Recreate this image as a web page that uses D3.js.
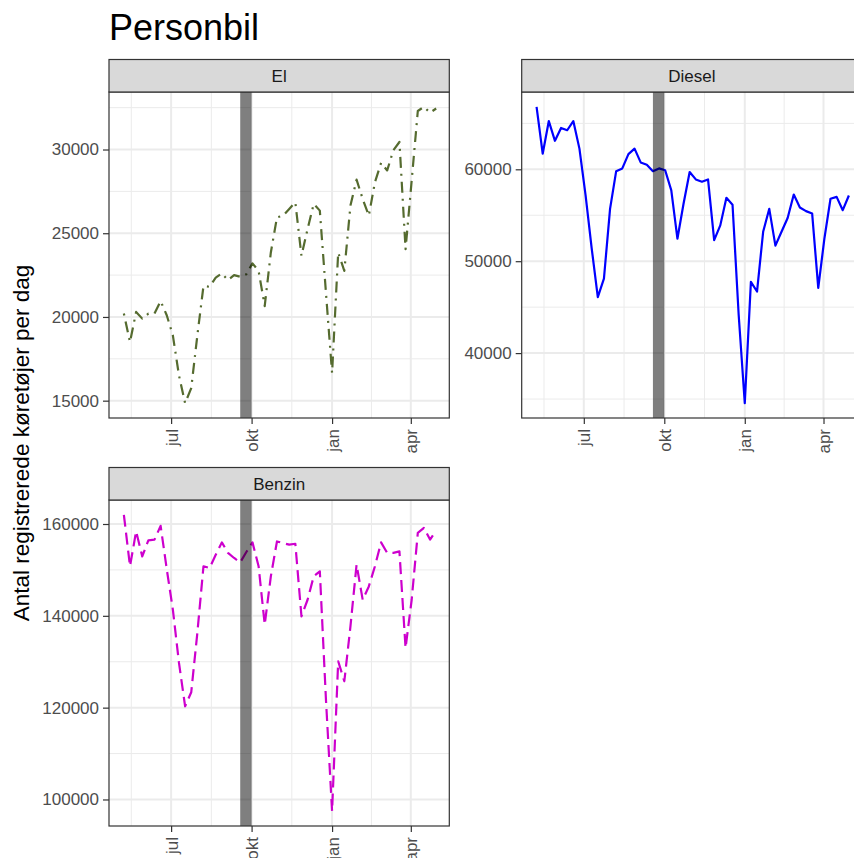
<!DOCTYPE html>
<html>
<head>
<meta charset="utf-8">
<script src="https://cdn.jsdelivr.net/npm/d3@7"></script>
<style>
  body { margin: 0; background: #fff; }
  svg { display: block; }
  text { font-family: "Liberation Sans", Arial, sans-serif; }
</style>
</head>
<body>
<svg id="chart" width="854" height="858"></svg>
<script>
// Weekly registrations, one value per week from 8 May 2022 to 30 April 2023
const weeks = d3.timeDay.range(new Date(2022, 4, 8), new Date(2023, 4, 1), 7);

const elValues = [
  20200, 18500, 20300, 19900, 20200, 20200, 20950, 20100, 18900, 16500,
  14850, 15750, 18900, 21850, 21800, 22350, 22600, 22200, 22500, 22400,
  22550, 23200, 22750, 20650, 23850, 25950, 26050, 26450, 26850, 23650,
  25250, 26750, 26350, 21450, 16650, 23850, 22750, 26650, 28200, 27050,
  26050, 28050, 29200, 28750, 29950, 30450, 24050, 28150, 32300, 32550,
  32200, 32450
];

const dieselValues = [
  66800, 61700, 65250, 63100, 64500, 64250, 65250, 62250, 57200, 51400,
  46100, 48100, 55700, 59800, 60100, 61650, 62250, 60750, 60500, 59800,
  60100, 59900, 57700, 52450, 56250, 59700, 58900, 58650, 58900, 52300,
  53900, 56900, 56150, 44200, 34550, 47750, 46700, 53200, 55700, 51700,
  53200, 54700, 57250, 55850, 55450, 55200, 47100, 52450, 56800, 57000,
  55550, 57150
];

const benzinValues = [
  162000, 150800, 158400, 152950, 156450, 156600, 159600, 150200, 141350, 129750,
  120300, 123350, 136300, 150800, 150400, 153300, 156000, 153700, 152600, 151650,
  153900, 156000, 150800, 138100, 148600, 156200, 155850, 155500, 155700, 139900,
  143500, 148600, 149700, 121750, 97450, 130100, 125750, 137700, 151150, 143500,
  146400, 150800, 156000, 153700, 153700, 154050, 133000, 143500, 158050, 159150,
  156600, 158600
];

const facetNames = ["El", "Diesel", "Benzin"];
const facetValues = [elValues, dieselValues, benzinValues];
const lineColors = ["#556B2F", "#0000FF", "#CD00CD"];
const lineDashes = ["2,6,11,6", null, "12,6"];
const yTickValues = [
  [15000, 20000, 25000, 30000],
  [40000, 50000, 60000],
  [100000, 120000, 140000, 160000]
];

const monthTicks = [new Date(2022, 6, 1), new Date(2022, 9, 1), new Date(2023, 0, 1), new Date(2023, 3, 1)];
const monthLabels = ["jul", "okt", "jan", "apr"];
const markedPeriod = [new Date(2022, 8, 18), new Date(2022, 9, 1)];

const chartTitle = "Personbil";
const yTitle = "Antal registrerede køretøjer per dag";

// ---- layout ----
const svg = d3.select("#chart");
const PW = 340.3, PH = 326, STRIP = 32.5;
const panelPos = [
  { x: 109, y: 92 },
  { x: 521.7, y: 92 },
  { x: 109, y: 500 }
];
const xDomain = [new Date(2022, 3, 21), new Date(2023, 4, 15)];

svg.append("rect").attr("width", 854).attr("height", 858).attr("fill", "#fff");

svg.append("text")
  .attr("x", 109).attr("y", 39.5)
  .attr("font-size", 36).attr("fill", "#000")
  .text(chartTitle);

svg.append("text")
  .attr("transform", "translate(29,443) rotate(-90)")
  .attr("text-anchor", "middle")
  .attr("font-size", 22.5).attr("fill", "#000")
  .text(yTitle);

// minor x breaks: midpoints between quarterly month breaks
const quarterBreaks = d3.timeMonth.every(3).range(new Date(2022, 0, 1), new Date(2024, 0, 1));
const xMinor = d3.pairs(quarterBreaks).map(([a, b]) => new Date((+a + +b) / 2))
  .filter(d => d > xDomain[0] && d < xDomain[1]);

facetNames.forEach((name, k) => {
  const values = facetValues[k];
  const { x: px, y: py } = panelPos[k];
  const x = d3.scaleTime().domain(xDomain).range([px, px + PW]);
  const [lo, hi] = d3.extent(values);
  const pad = (hi - lo) * 0.05;
  const y = d3.scaleLinear().domain([lo - pad, hi + pad]).range([py + PH, py]);

  const majors = yTickValues[k];
  const step = majors[1] - majors[0];
  const yMinor = [majors[0] - step / 2, ...majors.map(v => v + step / 2)]
    .filter(v => v > y.domain()[0] && v < y.domain()[1]);

  const g = svg.append("g");
  const clipId = "clip" + k;
  g.append("clipPath").attr("id", clipId)
    .append("rect").attr("x", px).attr("y", py).attr("width", PW).attr("height", PH);

  const inner = g.append("g").attr("clip-path", `url(#${clipId})`);
  inner.append("rect").attr("x", px).attr("y", py).attr("width", PW).attr("height", PH).attr("fill", "#fff");

  // grid
  inner.selectAll(".hmin").data(yMinor).join("line")
    .attr("x1", px).attr("x2", px + PW).attr("y1", d => y(d)).attr("y2", d => y(d))
    .attr("stroke", "#EBEBEB").attr("stroke-width", 1);
  inner.selectAll(".vmin").data(xMinor).join("line")
    .attr("y1", py).attr("y2", py + PH).attr("x1", d => x(d)).attr("x2", d => x(d))
    .attr("stroke", "#EBEBEB").attr("stroke-width", 1);
  inner.selectAll(".hmaj").data(majors).join("line")
    .attr("x1", px).attr("x2", px + PW).attr("y1", d => y(d)).attr("y2", d => y(d))
    .attr("stroke", "#EBEBEB").attr("stroke-width", 2);
  inner.selectAll(".vmaj").data(monthTicks).join("line")
    .attr("y1", py).attr("y2", py + PH).attr("x1", d => x(d)).attr("x2", d => x(d))
    .attr("stroke", "#EBEBEB").attr("stroke-width", 2);

  // series line
  const line = d3.line().x((d, i) => x(weeks[i])).y(d => y(d));
  const path = inner.append("path").datum(values)
    .attr("d", line)
    .attr("fill", "none")
    .attr("stroke", lineColors[k])
    .attr("stroke-width", 2.2)
    .attr("stroke-linejoin", "round");
  if (lineDashes[k]) path.attr("stroke-dasharray", lineDashes[k]);

  // marked period
  inner.append("rect")
    .attr("x", x(markedPeriod[0])).attr("width", x(markedPeriod[1]) - x(markedPeriod[0]))
    .attr("y", py).attr("height", PH)
    .attr("fill", "#000").attr("fill-opacity", 0.5);

  // panel border
  g.append("rect").attr("x", px).attr("y", py).attr("width", PW).attr("height", PH)
    .attr("fill", "none").attr("stroke", "#333").attr("stroke-width", 1.2);

  // strip
  g.append("rect").attr("x", px).attr("y", py - STRIP).attr("width", PW).attr("height", STRIP)
    .attr("fill", "#D9D9D9").attr("stroke", "#333").attr("stroke-width", 1.2);
  g.append("text")
    .attr("x", px + PW / 2).attr("y", py - STRIP / 2).attr("dy", "0.35em")
    .attr("text-anchor", "middle").attr("font-size", 17).attr("fill", "#1A1A1A")
    .text(name);

  // axes
  const yAxis = g.append("g").attr("transform", `translate(${px},0)`)
    .call(d3.axisLeft(y).tickValues(majors).tickFormat(d3.format("d")).tickSize(6).tickPadding(4));
  const xAxis = g.append("g").attr("transform", `translate(0,${py + PH})`)
    .call(d3.axisBottom(x).tickValues(monthTicks).tickFormat((d, i) => monthLabels[i]).tickSize(6));
  xAxis.selectAll(".tick text")
    .attr("transform", "rotate(-90)")
    .attr("x", -11).attr("y", 0).attr("dy", "0.35em")
    .attr("text-anchor", "end");
  [yAxis, xAxis].forEach(a => {
    a.select(".domain").remove();
    a.selectAll(".tick line").attr("stroke", "#333").attr("stroke-width", 1.2);
    a.selectAll(".tick text").attr("fill", "#4D4D4D").attr("font-size", 17)
      .attr("font-family", "Liberation Sans, Arial, sans-serif");
  });
});
</script>
</body>
</html>
